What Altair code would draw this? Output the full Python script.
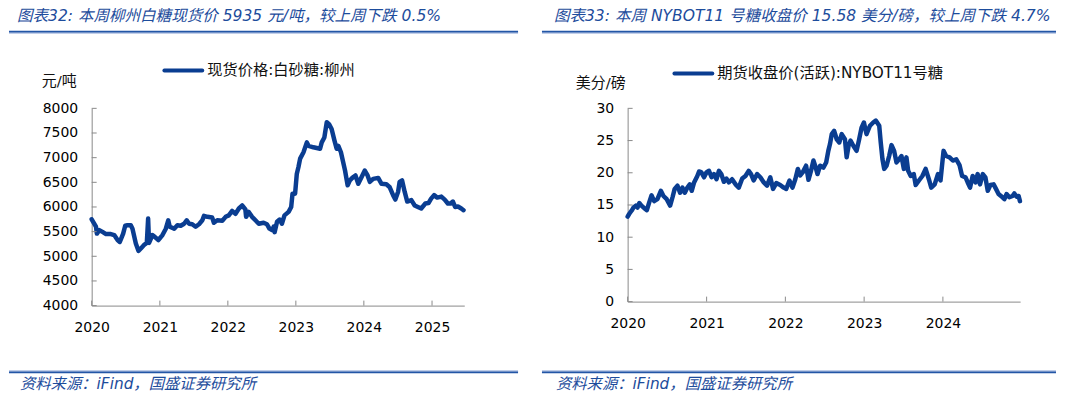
import altair as alt
import pandas as pd

# ---------------- data ----------------
left_dates = ["2020-01-01","2020-01-24","2020-01-29","2020-02-11","2020-02-28","2020-03-18","2020-04-13","2020-05-01","2020-05-19","2020-05-31",
"2020-06-18","2020-06-29","2020-07-11","2020-07-29","2020-08-07","2020-08-25","2020-09-08","2020-09-21","2020-10-08","2020-10-23",
"2020-10-30","2020-11-04","2020-11-22","2020-12-06","2020-12-24","2021-01-15","2021-02-02","2021-02-15","2021-02-23","2021-03-19",
"2021-04-05","2021-04-23","2021-05-11","2021-05-25","2021-06-07","2021-06-24","2021-07-12","2021-07-30","2021-08-17","2021-08-26",
"2021-09-13","2021-10-09","2021-10-18","2021-11-05","2021-12-02","2021-12-20","2022-01-06","2022-01-24","2022-02-11","2022-03-01",
"2022-03-19","2022-04-05","2022-04-09","2022-04-23","2022-05-11","2022-05-29","2022-06-16","2022-07-12","2022-07-30","2022-08-12",
"2022-08-26","2022-09-04","2022-09-09","2022-09-22","2022-10-06","2022-10-18","2022-11-01","2022-11-23","2022-12-07","2022-12-14",
"2022-12-28","2023-01-06","2023-01-15","2023-01-24","2023-02-11","2023-03-01","2023-03-10","2023-04-05","2023-05-11","2023-05-20",
"2023-06-03","2023-06-16","2023-06-28","2023-07-12","2023-07-27","2023-08-08","2023-08-17","2023-08-31","2023-09-22","2023-10-06",
"2023-10-18","2023-10-31","2023-11-17","2023-12-02","2023-12-20","2024-01-06","2024-01-21","2024-02-02","2024-02-20","2024-03-18",
"2024-04-05","2024-05-01","2024-05-19","2024-06-06","2024-06-18","2024-07-03","2024-07-11","2024-07-24","2024-08-07","2024-08-21",
"2024-09-12","2024-09-30","2024-10-17","2024-11-04","2024-11-26","2024-12-13","2024-12-27","2025-01-12","2025-01-29","2025-02-20",
"2025-03-10","2025-03-27","2025-04-11","2025-04-23","2025-05-05","2025-05-20","2025-06-07","2025-06-19"]
left_values = [5750,5600,5460,5530,5495,5450,5450,5430,5330,5290,
5460,5620,5630,5630,5560,5260,5110,5160,5230,5270,
5765,5270,5430,5390,5330,5430,5560,5730,5600,5560,
5630,5620,5660,5730,5660,5650,5600,5650,5730,5820,
5800,5785,5680,5730,5720,5800,5830,5920,5860,5970,
6030,5950,5800,5900,5800,5730,5660,5680,5650,5560,
5530,5600,5490,5700,5745,5660,5830,5900,6000,6270,
6270,6670,6810,6980,7110,7310,7240,7210,7180,7310,
7410,7720,7680,7580,7350,7180,7240,7110,6740,6440,
6540,6590,6640,6470,6610,6740,6640,6510,6570,6590,
6470,6460,6400,6240,6150,6310,6510,6540,6310,6110,
6140,6030,6000,5970,6070,6080,6170,6240,6190,6210,
6150,6070,6070,6110,6000,6010,5970,5935]

right_dates = ["2020-01-01","2020-01-08","2020-01-19","2020-01-28","2020-02-08","2020-02-16","2020-02-24","2020-03-05","2020-03-18","2020-03-30",
"2020-04-10","2020-04-21","2020-05-03","2020-05-18","2020-06-03","2020-06-15","2020-06-30","2020-07-16","2020-07-27","2020-08-06",
"2020-08-19","2020-08-31","2020-09-11","2020-09-22","2020-10-04","2020-10-15","2020-10-24","2020-11-04","2020-11-19","2020-11-27",
"2020-12-07","2020-12-20","2021-01-01","2021-01-12","2021-01-24","2021-02-04","2021-02-16","2021-02-27","2021-03-10","2021-03-22",
"2021-04-03","2021-04-14","2021-04-29","2021-05-15","2021-05-30","2021-06-15","2021-06-30","2021-07-15","2021-07-26","2021-08-07",
"2021-08-23","2021-09-07","2021-09-23","2021-10-08","2021-10-23","2021-11-05","2021-11-20","2021-12-08","2021-12-24","2022-01-05",
"2022-01-20","2022-02-03","2022-02-16","2022-02-28","2022-03-11","2022-03-23","2022-04-07","2022-04-18","2022-04-29","2022-05-11",
"2022-05-19","2022-05-30","2022-06-11","2022-06-26","2022-07-09","2022-07-19","2022-07-27","2022-08-04","2022-08-15","2022-08-27",
"2022-09-08","2022-09-19","2022-10-04","2022-10-12","2022-10-21","2022-10-30","2022-11-12","2022-11-27","2022-12-09","2022-12-20",
"2022-12-31","2023-01-12","2023-01-28","2023-02-12","2023-02-24","2023-03-12","2023-03-19","2023-03-27","2023-04-04","2023-04-15",
"2023-04-27","2023-05-08","2023-05-20","2023-05-31","2023-06-12","2023-06-23","2023-07-04","2023-07-16","2023-07-24","2023-08-05",
"2023-08-19","2023-08-28","2023-09-12","2023-09-28","2023-10-13","2023-10-28","2023-11-08","2023-11-24","2023-12-09","2023-12-21",
"2024-01-04","2024-01-16","2024-02-01","2024-02-16","2024-03-03","2024-03-18","2024-03-30","2024-04-15","2024-04-25","2024-05-06",
"2024-05-18","2024-05-31","2024-06-10","2024-06-21","2024-07-04","2024-07-16","2024-07-27","2024-08-08","2024-08-23","2024-09-03",
"2024-09-15","2024-09-26","2024-10-12","2024-10-22","2024-11-04","2024-11-19","2024-11-27","2024-12-07","2024-12-17","2024-12-23"]
right_values = [13.2,13.6,14.1,14.6,14.9,14.6,15.3,14.9,14.5,14.2,
15.4,16.5,15.6,15.9,17.2,16.4,15.9,14.9,16.2,17.5,
18.0,16.9,17.7,16.9,17.7,18.2,17.2,18.5,19.5,20.2,
20.1,19.3,20.1,20.3,19.3,19.8,19.0,20.3,19.8,18.6,
19.1,18.5,19.0,18.2,17.7,19.1,19.5,20.3,19.8,18.8,
19.8,19.3,18.5,18.0,19.3,17.5,18.4,18.1,17.7,17.5,
18.8,17.7,19.0,20.6,19.6,20.1,21.1,18.9,20.2,21.9,
21.1,19.8,21.1,20.8,21.6,23.4,24.5,26.0,26.5,25.2,
24.7,26.0,25.2,22.4,24.2,25.0,24.2,23.4,25.2,27.0,
27.8,26.0,27.3,27.8,28.1,27.3,24.7,22.1,20.6,21.1,
22.6,24.3,23.4,21.6,22.1,22.6,20.6,22.4,20.3,19.5,
19.8,18.1,18.8,19.5,20.6,19.0,17.7,18.2,19.8,18.8,
23.4,22.6,22.4,21.9,22.1,21.2,19.5,19.3,18.5,17.7,
19.5,18.5,19.8,18.2,19.8,19.3,17.2,18.1,18.2,17.5,
16.7,16.4,15.9,16.7,16.2,16.4,16.8,16.3,16.4,15.6]

left_years = [2020, 2021, 2022, 2023, 2024, 2025]
right_years = [2020, 2021, 2022, 2023, 2024]
left_yticks = [4000, 4500, 5000, 5500, 6000, 6500, 7000, 7500, 8000]
right_yticks = [0, 5, 10, 15, 20, 25, 30]

left_title = "图表32: 本周柳州白糖现货价 5935 元/吨，较上周下跌 0.5%"
right_title = "图表33: 本周 NYBOT11 号糖收盘价 15.58 美分/磅，较上周下跌 4.7%"
left_legend = "现货价格:白砂糖:柳州"
right_legend = "期货收盘价(活跃):NYBOT11号糖"
left_unit = "元/吨"
right_unit = "美分/磅"
source = "资料来源：iFind，国盛证券研究所"

# ---------------- styling ----------------
LINE = "#0A3D91"
BLUE = "#1D4C9C"
RULE = "#2356A6"
RULE_LIGHT = "#9DB3DC"
AXIS_C = "#8A8A8A"
FONT = "'DejaVu Sans', 'Noto Sans CJK SC'"
one = pd.DataFrame({"k": [0]})


def rule(x1, x2, y, color, sw, cap="butt"):
    return alt.Chart(one).mark_rule(color=color, strokeWidth=sw, strokeCap=cap).encode(
        x=alt.value(x1), x2=alt.value(x2), y=alt.value(y))


def text(s, x, y, size, color, italic=False):
    return alt.Chart(pd.DataFrame({"t": [s]})).mark_text(
        align="left", baseline="middle", fontSize=size, color=color, font=FONT,
        fontStyle="italic" if italic else "normal").encode(
        x=alt.value(x), y=alt.value(y), text="t:N")


def panel(dates, values, end, years, yticks, ydom, w, h, title, legend, unit,
          r1, r2, title_x, leg_x, leg_y, unit_x, unit_y, src_x):
    df = pd.DataFrame({"d": dates, "v": values})
    xs = alt.Scale(type="utc", nice=False,
                   domain=[alt.DateTime(year=2020, month=1, date=1, utc=True), end])
    ys = alt.Scale(domain=ydom, nice=False, zero=False)
    xaxis = alt.Axis(values=[alt.DateTime(year=y, month=1, date=1, utc=True) for y in years],
                     format="%Y", labelFlush=False, labelOverlap=False, title=None,
                     domain=True, labels=True)
    yaxis = alt.Axis(values=yticks, format="d", labelOverlap=False, title=None,
                     domain=True, labels=True)
    line = alt.Chart(df).mark_line(color=LINE, strokeWidth=4.5, strokeJoin="round",
                                   strokeCap="round").encode(
        x=alt.X("d:T", scale=xs, axis=xaxis), y=alt.Y("v:Q", scale=ys, axis=yaxis))
    xt = alt.Chart(pd.DataFrame({"d": [f"{y}-01-01" for y in years]})).mark_rule(
        color=AXIS_C, strokeWidth=1).encode(
        x=alt.X("d:T", scale=xs, axis=xaxis), y=alt.value(h), y2=alt.value(h - 5))
    yt = alt.Chart(pd.DataFrame({"v": yticks})).mark_rule(
        color=AXIS_C, strokeWidth=1).encode(
        y=alt.Y("v:Q", scale=ys, axis=yaxis), x=alt.value(0), x2=alt.value(5))
    layers = [
        line, xt, yt,
        rule(r1, r2, -77, RULE, 2), rule(r1, r2, -75.5, RULE_LIGHT, 1),
        text(title, title_x, -93, 15.6, BLUE, italic=True),
        rule(leg_x, leg_x + 38, leg_y, LINE, 4, cap="round"),
        text(legend, leg_x + 43, leg_y, 15.3, "#111111"),
        text(unit, unit_x, unit_y, 15, "#111111"),
        rule(r1, r2, 265, RULE, 2), rule(r1, r2, 263.5, RULE_LIGHT, 1),
        text(source, src_x, 277, 15.4, BLUE, italic=True),
    ]
    return alt.layer(*layers).properties(width=w, height=h)


left = panel(left_dates, left_values, alt.DateTime(year=2025, month=6, date=23, utc=True),
             left_years, left_yticks, [4000, 8000], 374, 198, left_title, left_legend, left_unit,
             -83, 428, -75, 73, -38, -50, -27, -72)
right = panel(right_dates, right_values, alt.DateTime(year=2024, month=12, date=24, utc=True),
              right_years, right_yticks, [0, 30], 394, 194, right_title, right_legend, right_unit,
              -86, 430, -74, 47, -35, -52, -25, -72)

chart = alt.hconcat(left, right, spacing=164, bounds="flush").properties(
    padding={"left": 0, "top": 0, "right": 0, "bottom": 0}
).configure(background="white").configure_view(stroke=None).configure_axis(
    domainColor=AXIS_C, domainWidth=1, labelColor="#000000", labelFont="DejaVu Sans",
    labelFontSize=14, grid=False, ticks=False, tickSize=0
).configure_axisX(labelPadding=15).configure_axisY(labelPadding=14)

chart.save("out.html", embed_options={"renderer": "svg", "actions": False})
